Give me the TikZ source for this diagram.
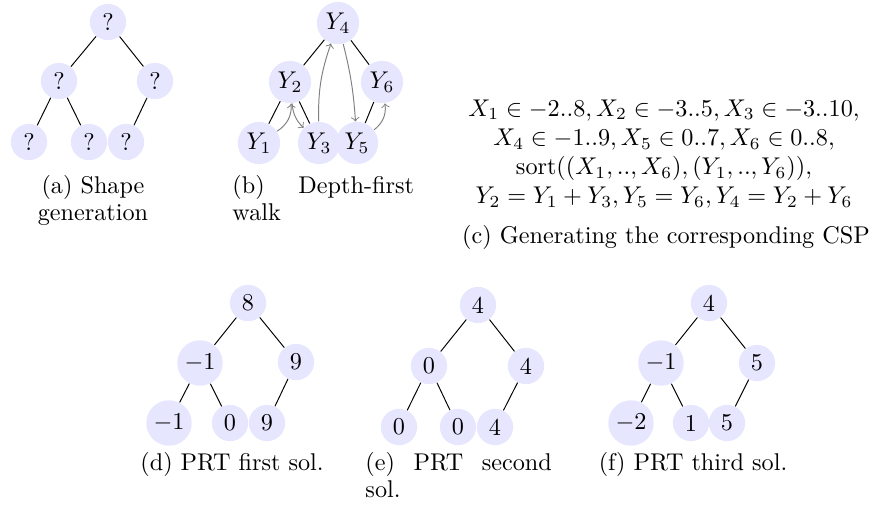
\documentclass[tikz,border=0pt]{standalone}
\usepackage{xcolor}
\usepackage{tikz}
\usetikzlibrary{positioning}
\definecolor{nodefill}{HTML}{E6E6FF}

\tikzset{
  tnode/.style={circle, fill=nodefill, inner sep=1.5pt, minimum size=15pt},
  walk/.style={->, gray},
  subcap/.style={font=\fontsize{10}{11}\selectfont, inner sep=0pt}
}

\begin{document}
\begin{tikzpicture}[x=0.4132pt, y=-0.4132pt]
\useasboundingbox (0,0) rectangle (875,508);

% (a) shape of the tree
\node[tnode] (a0) at (108,22) {?};
\node[tnode] (a1) at (59,81) {?};
\node[tnode] (a2) at (155,81) {?};
\node[tnode] (a11) at (29,142) {?};
\node[tnode] (a12) at (89,142) {?};
\node[tnode] (a21) at (126,142) {?};
\node[subcap, anchor=north, align=center] (capa) at (93,175) {(a) Shape\\generation};

% (b) walk over the variables
\node[tnode] (y4) at (338,23) {$Y_4$};
\node[tnode] (y2) at (290,82) {$Y_2$};
\node[tnode] (y6) at (382,82) {$Y_6$};
\node[tnode] (y1) at (259,143) {$Y_1$};
\node[tnode] (y3) at (319,143) {$Y_3$};
\node[tnode] (y5) at (357,143) {$Y_5$};
\draw (y4) -- (y2);
\draw (y4) -- (y6);
\draw (y2) -- (y1);
\draw (y2) -- (y3);
\draw (y6) -- (y5);
\draw[walk] (y1) to[bend right=30] (y2);
\draw[walk] (y2) to[bend right=20] (y3);
\draw[walk] (y3) to[bend left=10] (y4);
\draw[walk] (y4) to[bend left=5] (y5);
\draw[walk] (y5) to[bend right=30] (y6);
\node[subcap, anchor=north west, text width=75pt, align=left] (capb) at (232,175) {(b)\hfill Depth-first\\walk};

% (c) the CSP
\node[align=center] (csp) at (664,154) {$X_1 \in -2..8, X_2 \in -3..5, X_3 \in -3..10,$\\
  $X_4 \in -1..9, X_5 \in 0..7, X_6 \in 0..8,$\\
  $\mathrm{sort}((X_1,..,X_6),(Y_1,..,Y_6)),$\\
  $Y_2 = Y_1 + Y_3, Y_5 = Y_6, Y_4 = Y_2 + Y_6$};
\node[subcap, anchor=base] (capc) at (666,243) {(c) Generating the corresponding CSP};

% (d) first solution
\node[tnode] (d0) at (248,303) {8};
\node[tnode] (d1) at (200,363) {$-1$};
\node[tnode] (d2) at (296,362) {9};
\node[tnode] (d11) at (169,423) {$-1$};
\node[tnode] (d12) at (230,423) {0};
\node[tnode] (d21) at (267,423) {9};
\node[subcap, anchor=base] (capd) at (232,470) {(d) PRT first sol.};

% (e) second solution
\node[tnode] (e0) at (478,305) {4};
\node[tnode] (e1) at (429,366) {0};
\node[tnode] (e2) at (526,366) {4};
\node[tnode] (e11) at (399,427) {0};
\node[tnode] (e12) at (458,427) {0};
\node[tnode] (e21) at (495,427) {4};
\node[subcap, anchor=north west, text width=77pt, align=left] (cape) at (365,452) {(e)\hfill PRT\hfill second\\sol.};

% (f) third solution
\node[tnode] (f0) at (709,303) {4};
\node[tnode] (f1) at (661,363) {$-1$};
\node[tnode] (f2) at (757,363) {5};
\node[tnode] (f11) at (631,423) {$-2$};
\node[tnode] (f12) at (691,423) {1};
\node[tnode] (f21) at (727,423) {5};
\node[subcap, anchor=base] (capf) at (693,470) {(f) PRT third sol.};

% tree edges
\foreach \t in {a,d,e,f}
  \draw (\t0) -- (\t1) (\t0) -- (\t2) (\t1) -- (\t11) (\t1) -- (\t12) (\t2) -- (\t21);
\end{tikzpicture}
\end{document}
